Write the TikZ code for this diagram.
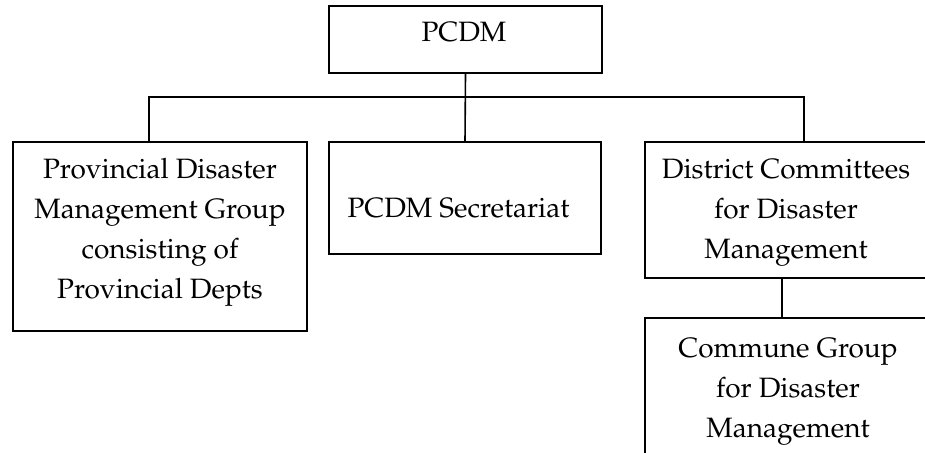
\documentclass[tikz,border=0pt]{standalone}
\usepackage[T1]{fontenc}
\renewcommand{\rmdefault}{ppl}
\begin{document}
\begin{tikzpicture}[x=1pt,y=-1pt,
  box/.style={draw=black, line width=1.6pt, inner sep=0pt},
  txt/.style={align=center, inner sep=0pt, font=\fontsize{28}{40}\selectfont},
  conn/.style={draw=black, line width=1.6pt}]
\useasboundingbox (0,0) rectangle (925,452);
% boxes
\node[box, minimum width=273pt, minimum height=67pt] (pcdm) at (465.5,39.5) {};
\node[box, minimum width=294pt, minimum height=189pt] (pdmg) at (160,236.5) {};
\node[box, minimum width=272pt, minimum height=112pt] (sec) at (465,198) {};
\node[box, minimum width=285pt, minimum height=136pt] (dist) at (787.5,210) {};
\node[box, minimum width=285pt, minimum height=150pt] (comm) at (787.5,393) {};
% texts
\node[txt] (tpcdm) at (464,32.5) {PCDM};
\node[txt] (tpdmg) at (160,232.5) {Provincial Disaster\\Management Group\\consisting of\\Provincial Depts};
\node[txt] (tsec) at (458.5,208) {PCDM Secretariat};
\node[txt] (tdist) at (786,212.5) {District Committees\\for Disaster\\Management};
\node[txt] (tcomm) at (788,391.5) {Commune Group\\for Disaster\\Management};
% connectors
\coordinate (busL) at (149,97);
\coordinate (busR) at (804,97);
\coordinate (dx) at (782,0);
\draw[conn] (pcdm.south) -- (sec.north);
\draw[conn] (pdmg.north -| busL) -- (busL) -- (busR) -- (dist.north -| busR);
\draw[conn] (dist.south -| dx) -- (comm.north -| dx);
\end{tikzpicture}
\end{document}
